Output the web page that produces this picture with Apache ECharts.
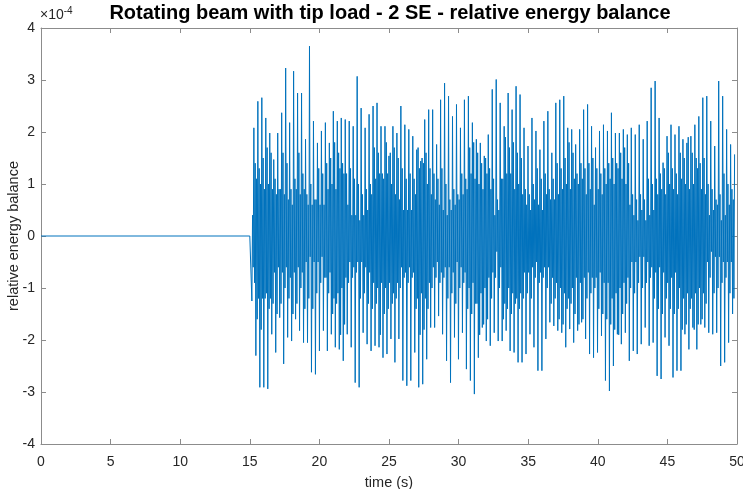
<!DOCTYPE html>
<html>
<head>
<meta charset="utf-8">
<script src="https://cdn.jsdelivr.net/npm/echarts@6/dist/echarts.min.js"></script>
<style>
html,body{margin:0;padding:0;background:#fff;}
#chart{width:743px;height:489px;}
</style>
</head>
<body>
<div id="chart"></div>
<script>
// Values in units of 1e-4 (axis shows x10^-4)
const quietTimes = [0, 15.0];
const quietValues = [0, 0];

// Alternating down/up spike peaks (successive spikes)
const peaksSeg1 = [-1.25, 2.08, -2.30, 2.59, -2.91, 2.66, -2.91, 2.27, -2.94, 1.98, -1.89, 1.47, -2.24, 1.98, -1.57, 2.37, -2.46, 3.23, -1.95, 2.18, -2.02, 3.17, -1.60, 2.75, -1.82, 2.75, -2.05, 1.86, -2.05, 3.65, -2.62, 2.21, -2.66, 1.79, -2.21, 2.02, -1.82, 2.18, -2.21, 1.79];
const peaksSeg2 = [-1.89, 2.40, -2.14, 2.21, -2.18, 2.27, -2.40, 2.24, -1.89, 2.21, -2.14, 2.11, -2.82, 3.07, -2.91, 2.46, -1.86, 2.08, -2.08, 2.34, -2.21, 2.50, -2.11, 2.56, -2.14, 2.11, -2.34, 2.11, -2.27, 1.54, -1.98, 2.11, -2.43, 1.98, -1.98, 2.50, -2.78, 2.14, -2.88, 2.05, -2.78, 1.92, -2.24];
const peaksSeg3 = [1.66, -2.91, 1.44, -2.85, 2.24, -2.37, 2.43, -1.76, 2.43, -1.76, 1.76, -1.54, 2.62, -1.89, 2.94, -2.40, 2.69, -2.82, 2.30, -1.95, 2.53, -2.37, 2.08, -1.86, 2.62, -2.56, 2.69, -2.78, 2.18, -3.04, 1.86, -2.34, 1.79, -1.76, 1.54, -2.02, 1.95, -2.11, 2.82, -1.86, 3.01, -2.02, 2.56];
const peaksSeg4 = [-2.02, 2.11, -1.82, 2.75, -2.21, 2.43, -2.24, 2.88, -2.43, 2.72, -2.43, 2.08, -2.27, 1.73, -1.89, 2.27, -2.14, 2.02, -2.59, 1.66, -2.59, 2.21, -1.98, 2.40, -1.66, 1.60, -1.73, 2.56, -1.82, 2.62, -1.86, 2.69, -2.14, 2.08, -1.79, 2.05, -2.05, 1.76, -1.82, 2.05, -1.66, 2.43];
const peaksSeg5 = [-1.98, 2.53, -2.27, 2.11, -2.34, 1.70, -2.24, 2.02, -1.92, 2.14, -2.78, 2.02, -2.98, 2.37, -2.50, 1.98, -1.89, 1.98, -2.08, 2.05, -1.86, 1.95, -2.40, 2.08, -2.21, 1.95, -2.27, 2.14, -2.08, 1.86, -1.76, 2.21, -2.11, 2.85, -2.05, 2.98, -2.69, 2.27, -2.75, 1.41, -1.95, 1.92, -2.11];
const peaksSeg6 = [2.14, -2.72, 1.95, -2.59, 2.11, -2.59, 1.86, -1.89, 1.79, -2.18, 1.92, -1.76, 2.14, -2.18, 2.30, -1.70, 2.66, -1.76, 2.69, -1.86, 2.21, -1.89, 1.73, -1.86, 2.98, -2.50, 2.69, -2.43, 2.05, -2.05, 1.76, -1.50, 1.57];

// Inner swing right after each spike (size of the opposite-sign excursion)
const bandSeg1 = [0.4, 0.9, 1.1, 1.2, 1.0, 1.2, 0.9, 1.1, 1.0, 1.2, 0.9, 0.7, 0.8, 0.6, 0.9, 0.7, 0.8, 0.6, 0.7, 0.8, 0.6, 0.7, 0.9, 0.6, 0.8, 0.7, 0.9, 0.5, 0.6, 0.4, 0.6, 0.5, 0.7, 0.5, 0.6, 0.4, 0.6, 0.8, 0.9, 0.7];
const bandSeg2 = [1.0, 1.2, 0.9, 1.1, 1.3, 1.0, 1.2, 0.8, 0.6, 0.5, 0.4, 0.6, 0.4, 0.5, 0.3, 0.5, 0.4, 0.6, 0.5, 0.7, 0.8, 0.9, 1.1, 1.0, 1.2, 0.9, 1.1, 1.0, 1.2, 0.9, 1.0, 1.1, 0.8, 0.9, 0.7, 0.6, 0.5, 0.7, 0.5, 0.6, 0.5, 0.7, 0.8];
const bandSeg3 = [1.2, 1.3, 1.1, 1.4, 1.2, 1.0, 0.9, 0.8, 0.6, 0.7, 0.5, 0.6, 0.7, 0.5, 0.6, 0.4, 0.6, 0.5, 0.7, 0.6, 0.5, 0.7, 0.6, 0.8, 0.7, 0.9, 1.0, 1.2, 0.9, 1.1, 1.3, 1.0, 1.1, 0.9, 1.0, 1.2, 0.8, 0.9, 0.7, 0.4, 0.3, 0.5, 0.6];
const bandSeg4 = [1.1, 1.3, 1.2, 1.0, 1.2, 1.1, 0.9, 1.2, 1.0, 1.1, 0.8, 0.7, 0.6, 0.7, 0.5, 0.6, 0.7, 0.5, 0.6, 0.7, 0.5, 0.6, 0.8, 0.6, 0.7, 0.8, 0.7, 0.9, 0.8, 1.0, 0.9, 1.1, 1.0, 1.2, 0.9, 1.0, 1.1, 0.8, 1.0, 0.9, 1.1, 0.8];
const bandSeg5 = [0.8, 0.7, 0.9, 0.8, 0.6, 0.8, 0.9, 0.7, 0.8, 0.9, 1.0, 0.9, 1.1, 1.2, 1.0, 1.1, 1.3, 1.0, 1.1, 0.9, 1.0, 0.8, 0.6, 0.5, 0.4, 0.5, 0.3, 0.4, 0.5, 0.4, 0.3, 0.5, 0.4, 0.6, 0.5, 0.7, 0.8, 0.6, 0.9, 0.7, 0.8, 0.9, 1.0];
const bandSeg6 = [0.8, 0.9, 0.7, 0.8, 1.0, 1.1, 1.2, 1.0, 1.1, 0.9, 1.2, 1.0, 1.1, 1.3, 1.0, 0.9, 1.1, 0.8, 0.5, 0.4, 0.3, 0.5, 0.4, 0.6, 0.4, 0.3, 0.5, 0.4, 0.5, 0.6, 0.5, 0.7];

// Medium spike just before the next big spike (same sign as the previous spike)
const midSeg1 = [0.6, 1.4, 1.6, 1.3, 1.8, 1.5, 1.2, 1.7, 1.4, 1.6, 1.3, 1.1, 1.5, 0.9, 1.3, 1.6, 1.0, 1.4, 1.2, 0.9, 1.5, 1.1, 1.3, 1.6, 1.0, 1.2, 1.4, 0.8, 1.2, 1.0, 1.4, 0.7, 1.1, 1.3, 0.9, 1.2, 0.8, 1.4, 1.1, 1.5];
const midSeg2 = [1.5, 1.8, 1.3, 1.6, 1.9, 1.4, 1.7, 1.2, 0.9, 1.3, 0.8, 1.1, 0.7, 1.0, 1.2, 0.8, 1.1, 0.9, 1.3, 1.0, 1.4, 1.7, 1.3, 1.6, 1.9, 1.2, 1.5, 1.8, 1.4, 1.6, 1.3, 1.7, 1.2, 1.5, 1.0, 1.3, 0.8, 1.1, 0.9, 1.2, 0.8, 1.1, 1.4];
const midSeg3 = [1.7, 1.9, 1.5, 1.8, 1.6, 1.4, 1.3, 1.0, 1.2, 0.8, 1.1, 0.9, 1.3, 0.8, 1.0, 1.2, 0.7, 1.1, 0.9, 1.3, 0.8, 1.0, 1.2, 0.9, 1.1, 1.4, 1.7, 1.5, 1.8, 1.3, 1.6, 1.9, 1.4, 1.7, 1.5, 1.6, 1.3, 1.2, 1.1, 0.8, 0.7, 1.0, 1.1];
const midSeg4 = [1.6, 1.9, 1.4, 1.7, 1.5, 1.8, 1.3, 1.6, 1.4, 1.5, 1.2, 0.9, 1.1, 0.8, 1.2, 1.0, 0.8, 1.3, 0.9, 1.1, 0.8, 1.2, 1.0, 0.9, 1.3, 1.1, 1.2, 1.4, 1.6, 1.3, 1.7, 1.5, 1.4, 1.8, 1.3, 1.6, 1.5, 1.2, 1.7, 1.4, 1.6, 1.3];
const midSeg5 = [1.2, 1.4, 1.1, 1.5, 1.0, 1.3, 1.4, 1.2, 1.5, 1.3, 1.6, 1.4, 1.7, 1.5, 1.8, 1.4, 1.9, 1.6, 1.5, 1.7, 1.3, 1.4, 1.0, 0.8, 1.1, 0.7, 0.9, 0.8, 1.0, 0.7, 0.9, 1.1, 0.8, 1.0, 1.2, 1.1, 1.4, 1.2, 1.5, 1.3, 1.2, 1.6, 1.4];
const midSeg6 = [1.3, 1.5, 1.2, 1.4, 1.6, 1.8, 1.5, 1.7, 1.9, 1.4, 1.6, 1.8, 1.5, 1.7, 1.4, 1.6, 1.5, 1.3, 1.0, 0.8, 0.9, 1.1, 0.7, 1.0, 0.8, 0.9, 1.2, 0.8, 1.0, 1.1, 0.9, 1.2];

// Sampling of the spike sequence (s)
const peakStart = 15.15;
const peakStep = 0.1427;

const xTicks = { min: 0, max: 50, interval: 5 };
const yTicks = { min: -4, max: 4, interval: 1 };

const peaks = [].concat(peaksSeg1, peaksSeg2, peaksSeg3, peaksSeg4, peaksSeg5, peaksSeg6);
const band = [].concat(bandSeg1, bandSeg2, bandSeg3, bandSeg4, bandSeg5, bandSeg6);
const mid = [].concat(midSeg1, midSeg2, midSeg3, midSeg4, midSeg5, midSeg6);

const seriesData = [];
for (let i = 0; i < quietTimes.length; i++) seriesData.push([quietTimes[i], quietValues[i]]);
for (let k = 0; k < peaks.length; k++) {
  const t = peakStart + k * peakStep;
  seriesData.push([t, peaks[k]]);
  if (k < band.length && k < peaks.length - 1) {
    const s = Math.sign(peaks[k]);
    seriesData.push([t + peakStep / 3, -s * band[k]]);
    seriesData.push([t + 2 * peakStep / 3, s * mid[k]]);
  }
}

const axisGrey = '#8c8c8c';
const textCol = '#262626';
const FONT = '"Liberation Sans", Arial, Helvetica, sans-serif';

const chart = echarts.init(document.getElementById('chart'), null, { renderer: 'canvas' });
const option = {
  animation: false,
  backgroundColor: '#ffffff',
  textStyle: { fontFamily: FONT },
  title: {
    text: 'Rotating beam with tip load - 2 SE - relative energy balance',
    left: 385,
    textAlign: 'center',
    top: -2,
    textStyle: { fontFamily: FONT, fontSize: 20, fontWeight: 'bold', color: '#000' }
  },
  graphic: [{
    type: 'text',
    left: 40,
    top: 6,
    style: {
      text: '×10{sup|-4}',
      font: '14px ' + FONT,
      fill: textCol,
      rich: { sup: { fontSize: 10, verticalAlign: 'top', padding: [0, 0, 8, 0], fill: textCol, fontFamily: FONT } }
    }
  }],
  grid: { left: 41, right: 6, top: 28, bottom: 45, containLabel: false, outerBoundsMode: 'none' },
  xAxis: [{
    type: 'value', min: xTicks.min, max: xTicks.max, interval: xTicks.interval,
    position: 'bottom',
    name: 'time (s)', nameLocation: 'middle', nameGap: 31,
    nameTextStyle: { fontFamily: FONT, fontSize: 14.5, color: textCol },
    axisLine: { show: true, onZero: false, lineStyle: { color: axisGrey, width: 1 } },
    axisTick: { show: true, inside: true, length: 5, lineStyle: { color: axisGrey } },
    axisLabel: { fontFamily: FONT, fontSize: 14, color: textCol, margin: 11 },
    splitLine: { show: false }
  }, {
    type: 'value', min: xTicks.min, max: xTicks.max, interval: xTicks.interval,
    position: 'top',
    axisLine: { show: true, onZero: false, lineStyle: { color: axisGrey, width: 1 } },
    axisTick: { show: true, inside: true, length: 5, lineStyle: { color: axisGrey } },
    axisLabel: { show: false },
    splitLine: { show: false }
  }],
  yAxis: [{
    type: 'value', min: yTicks.min, max: yTicks.max, interval: yTicks.interval,
    position: 'left',
    name: 'relative energy balance', nameLocation: 'middle', nameGap: 20,
    nameMoveOverlap: false,
    nameTextStyle: { fontFamily: FONT, fontSize: 14.5, color: textCol },
    axisLine: { show: true, onZero: false, lineStyle: { color: axisGrey, width: 1 } },
    axisTick: { show: true, inside: true, length: 5, lineStyle: { color: axisGrey } },
    axisLabel: { fontFamily: FONT, fontSize: 14, color: textCol, margin: 6 },
    splitLine: { show: false }
  }, {
    type: 'value', min: yTicks.min, max: yTicks.max, interval: yTicks.interval,
    position: 'right',
    axisLine: { show: true, onZero: false, lineStyle: { color: axisGrey, width: 1 } },
    axisTick: { show: true, inside: true, length: 5, lineStyle: { color: axisGrey } },
    axisLabel: { show: false },
    splitLine: { show: false }
  }],
  series: [{
    type: 'line',
    xAxisIndex: 0, yAxisIndex: 0,
    data: seriesData,
    showSymbol: false,
    symbol: 'none',
    sampling: null,
    clip: true,
    lineStyle: { color: '#0072BD', width: 1 },
    emphasis: { disabled: true }
  }]
};
chart.setOption(option);
</script>
</body>
</html>
